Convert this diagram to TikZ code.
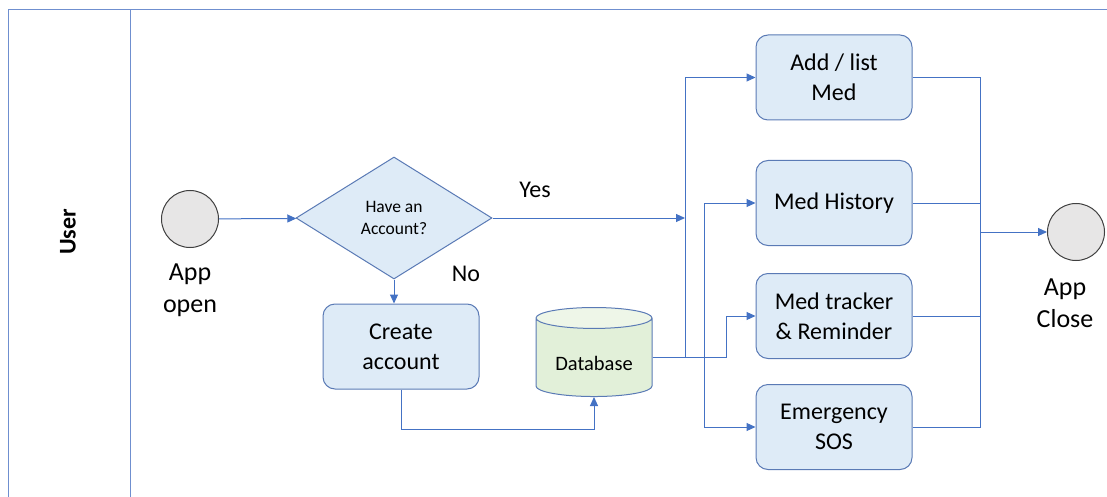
\documentclass[tikz,border=0pt]{standalone}
\usepackage{fontspec}
\setmainfont{Carlito}
\usetikzlibrary{arrows.meta,shapes.geometric,positioning}

\definecolor{flowline}{HTML}{4472C4}
\definecolor{laneline}{HTML}{6F8FCF}
\definecolor{boxfill}{HTML}{DEEBF7}
\definecolor{boxedge}{HTML}{5A7AB5}
\definecolor{dbfill}{HTML}{E2F0D9}
\definecolor{eventfill}{HTML}{E7E6E6}
\definecolor{eventedge}{HTML}{404040}

\tikzset{
  procbox/.style={draw=boxedge, fill=boxfill, line width=1pt, rounded corners=12pt,
    minimum width=156pt, minimum height=85pt, inner sep=2pt, align=center,
    font=\fontsize{24}{30}\selectfont},
  eventnode/.style={circle, draw=eventedge, fill=eventfill, line width=1pt,
    minimum size=57pt, inner sep=0pt},
  bigtext/.style={font=\fontsize{26}{32}\selectfont, align=center},
  flow/.style={draw=flowline, line width=1pt, -{Triangle[length=9pt,width=8pt]}},
  link/.style={draw=flowline, line width=1pt},
  lane/.style={draw=laneline, line width=1pt},
}

\begin{document}
\begin{tikzpicture}[x=1pt,y=-1pt]
  \useasboundingbox (0,0) rectangle (1107,497);

  % swimlane
  \draw[lane] (8,497) -- (8,10) -- (1107,10);
  \draw[lane] (130,10) -- (130,497);
  \node[rotate=90, font=\bfseries\fontsize{24}{30}\selectfont] (user) at (68,232) {User};

  % start and decision
  \node[eventnode] (open) at (190,219) {};
  \node[bigtext] (openlbl) at (190,290) {App\\open};
  \node[diamond, draw=boxedge, fill=boxfill, line width=1pt, minimum width=196pt,
    minimum height=122pt, inner sep=0pt, align=center,
    font=\fontsize{17.5}{22}\selectfont] (check) at (394,218) {Have an\\Account?};
  \node[font=\fontsize{24}{30}\selectfont] (yes) at (535,190) {Yes};
  \node[font=\fontsize{24}{30}\selectfont] (no) at (466,274) {No};

  \node[procbox] (create) at (401,346.5) {Create\\account};
  \node[cylinder, shape border rotate=90, draw=boxedge, line width=1pt, aspect=0.27,
    cylinder uses custom fill, cylinder body fill=dbfill, cylinder end fill=dbfill!60!white,
    minimum width=116pt, minimum height=89pt, inner sep=0pt, text height=15pt, text depth=5pt,
    font=\fontsize{20.5}{24}\selectfont] (db) at (594,357.5)
    {\raisebox{-8pt}[0pt][0pt]{Database}};

  % features
  \node[procbox] (addmed) at (834,77.5) {Add / list\\Med};
  \node[procbox] (history) at (834,203) {Med History};
  \node[procbox] (tracker) at (834,316) {Med tracker\\\& Reminder};
  \node[procbox] (sos) at (834,427) {Emergency\\SOS};

  % end
  \node[eventnode] (close) at (1076,232) {};
  \node[bigtext] (closelbl) at (1065,303) {App\\Close};

  % connectors
  \coordinate (busA) at (685,218);
  \coordinate (busB) at ([xshift=52pt]db.east);
  \coordinate (busC) at ([xshift=74pt]db.east);
  \coordinate (merge) at (980,232);

  \draw[flow] (open) -- (check);
  \draw[flow] (check.east) -- (busA);
  \draw[flow] (check.south) -- (check.south |- create.north);
  \draw[flow] (create.south) -- ++(0,40) -| (db.south);
  \draw[flow] (db.east) -| (busA) |- (addmed.west);
  \draw[flow] (db.east) -- (busB) |- (history.west);
  \draw[flow] (busB) |- (sos.west);
  \draw[flow] (db.east) -- (busC) |- (tracker.west);

  \draw[link] (addmed.east) -| (merge);
  \draw[link] (sos.east) -| (merge);
  \draw[link] (history.east) -- (history.east -| merge);
  \draw[link] (tracker.east) -- (tracker.east -| merge);
  \draw[flow] (merge) -- (close.west);
\end{tikzpicture}
\end{document}
